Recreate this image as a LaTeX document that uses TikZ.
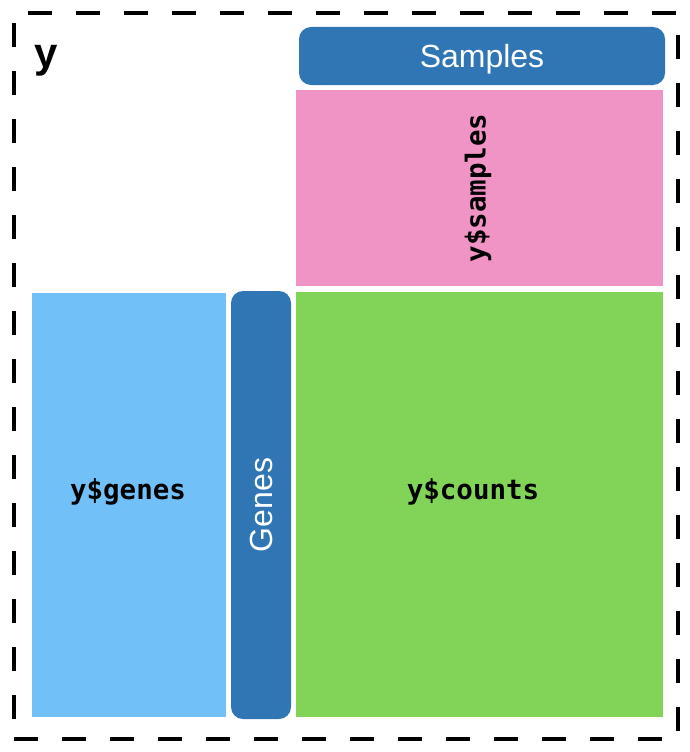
\documentclass[tikz,border=0pt]{standalone}
\usepackage{fontspec}
\setmainfont{Liberation Sans}
\newfontfamily\codefont{DejaVu Sans Mono}
\definecolor{boxblue}{HTML}{3076B4}
\definecolor{pinkc}{HTML}{F093C5}
\definecolor{lblue}{HTML}{71C0F8}
\definecolor{greenc}{HTML}{82D458}
\begin{document}
\begin{tikzpicture}[x=1pt,y=-1pt,
  block/.style={draw=none,inner sep=0pt,outer sep=0pt},
  pill/.style={block,fill=boxblue,rounded corners=12pt},
  pilltext/.style={text=white,font=\fontsize{32}{32}\selectfont},
  code/.style={font=\codefont\bfseries\fontsize{27.5}{27.5}\selectfont,text=black}]
\useasboundingbox (0,0) rectangle (690,752);
\node[block, minimum width=664pt, minimum height=726pt, draw=black, line width=4pt, dash pattern=on 24pt off 24pt] (frame) at (346,376) {};
\node[font=\bfseries\fontsize{42}{42}\selectfont] (ylab) at (46,61) {y};
\node[pill, minimum width=366pt, minimum height=58pt] (samples) at (482,56) {};
\node[pilltext] (samplestxt) at (482,59) {Samples};
\node[block, fill=pinkc, minimum width=367pt, minimum height=196pt] (pink) at (479.5,188) {};
\node[code, rotate=90] (ysamples) at (478,188) {y\$samples};
\node[block, fill=lblue, minimum width=194pt, minimum height=424pt] (genesbox) at (129,505) {};
\node[code] (ygenes) at (128,491.5) {y\$genes};
\node[pill, minimum width=60pt, minimum height=428pt] (genes) at (261,505) {};
\node[pilltext, rotate=90] (genestxt) at (genes.center) {Genes};
\node[block, fill=greenc, minimum width=367pt, minimum height=425pt] (counts) at (479.5,504.5) {};
\node[code] (ycounts) at (473,491.5) {y\$counts};
\end{tikzpicture}
\end{document}
